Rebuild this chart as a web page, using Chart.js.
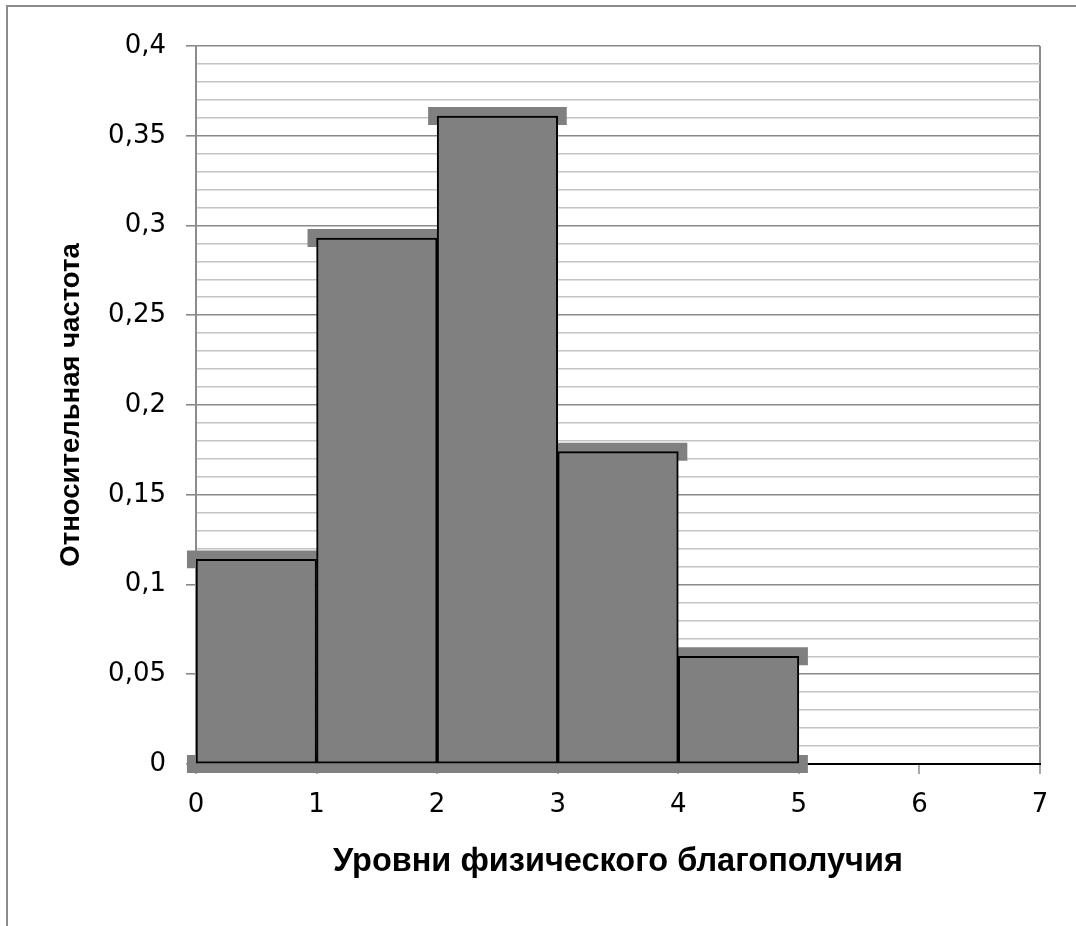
<!DOCTYPE html>
<html>
<head>
<meta charset="utf-8">
<script src="https://cdn.jsdelivr.net/npm/chart.js@4"></script>
<style>
  html, body { margin: 0; padding: 0; background: #fff; }
  #wrap { position: relative; width: 1076px; height: 926px; }
  #frame { position: absolute; left: 6px; top: 5px; width: 1080px; height: 940px;
           border-left: 2px solid #8c8c8c; border-top: 2px solid #8c8c8c; }
  canvas { position: absolute; left: 0; top: 0; }
</style>
</head>
<body>
<div id="wrap">
  <div id="frame"></div>
  <canvas id="chart" width="1076" height="926"></canvas>
</div>
<script>
// bins of the histogram (left edge of each interval)
var binStarts = [0, 1, 2, 3, 4];
var relFreq = [0.114, 0.293, 0.361, 0.174, 0.060];
var xTicks = [0, 1, 2, 3, 4, 5, 6, 7];
var yMajorTicks = [0, 0.05, 0.1, 0.15, 0.2, 0.25, 0.3, 0.35, 0.4];
var xTitle = "Уровни физического благополучия";
var yTitle = "Относительная частота";

var band = 0.005; // half-thickness of the grey step line, in y units

var barPoints = binStarts.map(function(s, i) { return { x: s + 0.5, y: relFreq[i] }; });
var topStep = binStarts.map(function(s, i) { return { x: s + 0.5, y: [relFreq[i] - band, relFreq[i] + band] }; });
var baseStep = binStarts.map(function(s) { return { x: s + 0.5, y: [-band, band] }; });

function isMajor(v) {
  return yMajorTicks.some(function(m) { return Math.abs(m - v) < 1e-6; });
}

var ctx = document.getElementById("chart").getContext("2d");
var chart = new Chart(ctx, {
  type: "bar",
  data: {
    datasets: [
      {
        label: "freq",
        data: barPoints,
        backgroundColor: "#808080",
        borderColor: "#000",
        borderWidth: 2,
        borderSkipped: false,
        barPercentage: 1,
        categoryPercentage: 1,
        grouped: false,
        order: 0
      },
      {
        label: "step",
        data: topStep,
        backgroundColor: "#808080",
        borderWidth: 0,
        barPercentage: 1.15,
        categoryPercentage: 1,
        grouped: false,
        clip: false,
        order: 1
      },
      {
        label: "base",
        data: baseStep,
        backgroundColor: "#808080",
        borderWidth: 0,
        barPercentage: 1.15,
        categoryPercentage: 1,
        grouped: false,
        clip: false,
        order: 2
      }
    ]
  },
  options: {
    responsive: false,
    animation: false,
    layout: { padding: { left: 0, top: 46, right: 36, bottom: 0 } },
    plugins: {
      legend: { display: false },
      tooltip: { enabled: false }
    },
    scales: {
      x: {
        type: "linear",
        min: 0,
        max: 7,
        offset: false,
        afterBuildTicks: function(scale) {
          scale.ticks = xTicks.map(function(v) { return { value: v }; });
        },
        afterFit: function(scale) { scale.height = 162; },
        ticks: {
          color: "#000",
          font: { family: "DejaVu Sans", size: 26 },
          padding: 16,
          maxRotation: 0,
          autoSkip: false
        },
        grid: {
          offset: false,
          color: function(c) { return c.tick && c.tick.value === 7 ? "#8c8c8c" : "rgba(0,0,0,0)"; },
          lineWidth: 2,
          tickLength: 10,
          tickColor: "#8c8c8c",
          tickWidth: 1.5
        },
        border: { color: "#000", width: 2 },
        title: {
          display: true,
          text: xTitle,
          color: "#000",
          font: { family: "Liberation Sans", size: 32.5, weight: "bold" },
          padding: { top: 0, bottom: 44 }
        }
      },
      y: {
        min: 0,
        max: 0.4,
        afterFit: function(scale) { scale.width = 196; },
        ticks: {
          stepSize: 0.01,
          autoSkip: false,
          color: "#000",
          font: { family: "DejaVu Sans", size: 26 },
          padding: 20,
          callback: function(v) {
            if (!isMajor(v)) return "";
            return String(+v.toFixed(2)).replace(".", ",");
          }
        },
        grid: {
          color: function(c) { return c.tick && isMajor(c.tick.value) ? "#8a8a8a" : "#c4c4c4"; },
          lineWidth: 1.6,
          tickLength: 10,
          tickColor: function(c) { return c.tick && isMajor(c.tick.value) ? "#8a8a8a" : "rgba(0,0,0,0)"; }
        },
        border: { color: "#8c8c8c", width: 2 },
        title: {
          display: true,
          text: yTitle,
          color: "#000",
          font: { family: "Liberation Sans", size: 27.5, weight: "bold" },
          padding: { top: 55, bottom: 0 }
        }
      }
    }
  }
});
</script>
</body>
</html>
